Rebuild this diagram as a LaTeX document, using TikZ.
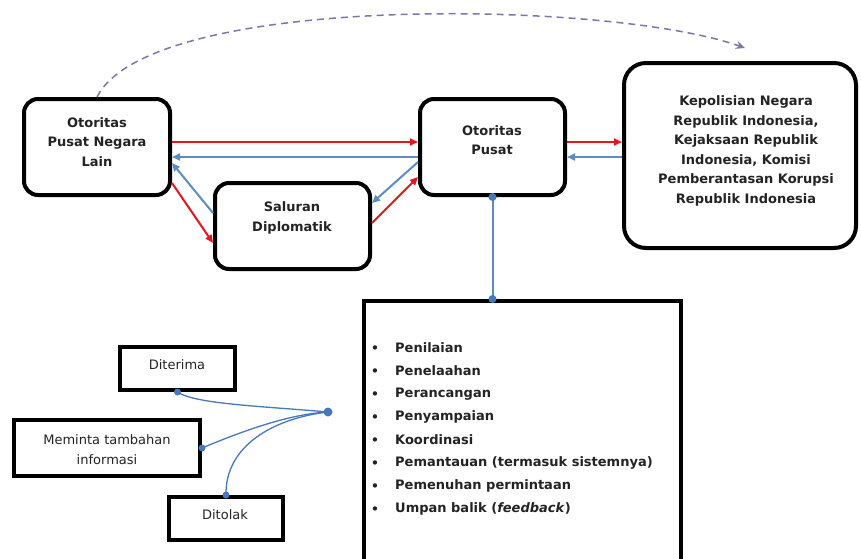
\documentclass[tikz,border=0pt]{standalone}
\usepackage{fontspec}
\setmainfont{DejaVu Sans}
\usetikzlibrary{arrows.meta,calc}
\definecolor{arrred}{RGB}{228,22,32}
\definecolor{arrblue}{RGB}{92,140,196}
\definecolor{dotblue}{RGB}{70,120,190}
\definecolor{dashc}{RGB}{122,120,168}
\definecolor{txt}{RGB}{35,35,35}
\begin{document}
\begin{tikzpicture}[x=1pt,y=-1pt,
  rbox/.style={draw=black,line width=4pt,rounded corners=14pt,fill=white,inner sep=0pt},
  sbox/.style={draw=black,line width=4pt,fill=white,inner sep=0pt},
  lbl/.style={font=\fontsize{13}{19.5}\selectfont\bfseries,align=center,text=txt,inner sep=0pt},
  plain/.style={font=\fontsize{13}{20}\selectfont,align=center,text=txt,inner sep=0pt},
  item/.style={font=\fontsize{13}{16}\selectfont\bfseries,text=txt,anchor=west,inner sep=0pt},
  redarr/.style={draw=arrred,line width=2pt,-{Triangle[length=8pt,width=7pt]}},
  bluearr/.style={draw=arrblue,line width=2pt,-{Triangle[length=8pt,width=7pt]}},
  conn/.style={draw=arrblue,line width=2pt},
  thin/.style={draw=dotblue,line width=1.3pt},
  dot/.style={fill=dotblue}
]
\clip (0,0) rectangle (861,558);
\useasboundingbox (0,0) rectangle (861,558);

% main boxes
\node[rbox,minimum width=146pt,minimum height=96pt] (A) at (97,147) {};
\node[lbl] (At) at (97,142) {Otoritas\\Pusat Negara\\Lain};
\node[rbox,minimum width=155pt,minimum height=86pt] (B) at (292.5,226) {};
\node[lbl] (Bt) at (292,218) {Saluran\\Diplomatik};
\node[rbox,minimum width=145pt,minimum height=96pt] (C) at (492.5,147) {};
\node[lbl] (Ct) at (492,140) {Otoritas\\Pusat};
\node[rbox,rounded corners=22pt,minimum width=232pt,minimum height=185pt] (D) at (740,155.5) {};
\node[lbl,font=\fontsize{13}{19.6}\selectfont\bfseries] (Dt) at (746,151) {Kepolisian Negara\\Republik Indonesia,\\Kejaksaan Republik\\Indonesia, Komisi\\Pemberantasan Korupsi\\Republik Indonesia};

% list box
\node[sbox,anchor=north,minimum width=317pt,minimum height=290pt] (E) at (522.5,299) {};
\foreach \t [count=\i] in {Penilaian,Penelaahan,Perancangan,Penyampaian,Koordinasi,Pemantauan (termasuk sistemnya),Pemenuhan permintaan,{Umpan balik (\textit{feedback})}}{
  \node[item] (L\i) at (395,{348+23*(\i-1)}) {\t};
  \node[font=\fontsize{15}{15}\selectfont,text=txt,inner sep=0pt] (B\i) at (375,{350+23*(\i-1)}) {•};
}

% decision boxes
\node[sbox,minimum width=115pt,minimum height=43pt] (Dr) at (177.5,368.5) {};
\node[plain] (Drt) at (177,365) {Diterima};
\node[sbox,minimum width=186pt,minimum height=56pt] (Mt) at (107,448) {};
\node[plain] (Mtt) at (107,450) {Meminta tambahan\\informasi};
\node[sbox,minimum width=114pt,minimum height=43pt] (Dl) at (226,518.5) {};
\node[plain] (Dlt) at (225,515) {Ditolak};

% arrows between main boxes
\draw[redarr] ($(A.east)+(0,-5)$) -- ($(C.west)+(0,-5)$);
\draw[bluearr] ($(C.west)+(0,10)$) -- ($(A.east)+(0,10)$);
\draw[redarr] ($(A.south east)+(0,-14)$) -- ($(B.west)+(0,17)$);
\draw[bluearr] ($(B.west)+(0,-13)$) -- ($(A.east)+(0,16)$);
\draw[bluearr] ($(C.west)+(0,15)$) -- ($(B.east)+(0,-23)$);
\draw[redarr] ($(B.east)+(0,-3)$) -- ($(C.west)+(0,30)$);
\coordinate (cd) at ($(C.east)+(0,-5)$);
\coordinate (dc) at ($(C.east)+(0,10)$);
\draw[redarr] (cd) -- (cd -| D.west);
\draw[bluearr] (dc -| D.west) -- (dc);

% C to list box
\coordinate (Etop) at (C.south |- E.north);
\draw[conn] (C.south) -- (Etop);
\fill[dot] (C.south) circle (4pt);
\fill[dot] (Etop) circle (4pt);

% dashed arc
\coordinate (dend) at (745,48);
\draw[draw=dashc,line width=1.5pt,dash pattern=on 7pt off 5pt,-{Stealth[length=9pt,width=8pt]}] (A.north) .. controls (150,-8) and (610,0) .. (dend);

% hub curves
\coordinate (H) at (328,412);
\draw[thin] (Dr.south) .. controls (195,404) and (260,406) .. (H);
\draw[thin] (Mt.east) .. controls (245,430) and (290,414) .. (H);
\draw[thin] (Dl.north) .. controls (225,445) and (275,418) .. (H);
\fill[dot] (Dr.south) circle (3.5pt);
\fill[dot] (Mt.east) circle (3.5pt);
\fill[dot] (Dl.north) circle (3.5pt);
\fill[dot] (H) circle (4.5pt);
\end{tikzpicture}
\end{document}
